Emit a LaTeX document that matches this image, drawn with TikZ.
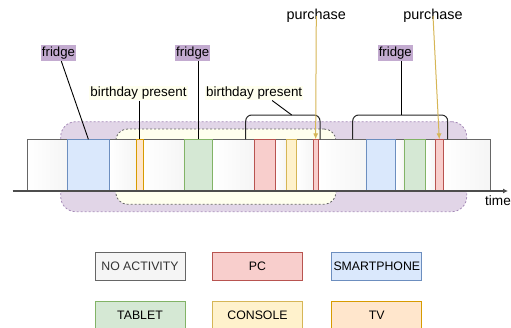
\documentclass[tikz,border=0pt]{standalone}
\usepackage{fontspec}
\setmainfont{Liberation Sans}
\usetikzlibrary{arrows.meta,calc}
\definecolor{pcF}{HTML}{F8CECC}\definecolor{pcD}{HTML}{B85450}
\definecolor{spF}{HTML}{DAE8FC}\definecolor{spD}{HTML}{6C8EBF}
\definecolor{tbF}{HTML}{D5E8D4}\definecolor{tbD}{HTML}{82B366}
\definecolor{coF}{HTML}{FFF2CC}\definecolor{coD}{HTML}{D6B656}
\definecolor{tvF}{HTML}{FFE6CC}\definecolor{tvD}{HTML}{D79B00}
\definecolor{naF}{HTML}{F5F5F5}\definecolor{naD}{HTML}{666666}
\definecolor{puF}{HTML}{E1D5E7}\definecolor{puD}{HTML}{A68BB8}
\definecolor{puL}{HTML}{C3ABD0}
\definecolor{yeF}{HTML}{FFFFEE}
\definecolor{axC}{HTML}{4D4D4D}
\tikzset{
  segbase/.style={rectangle,inner sep=0pt,outer sep=0pt,line width=1pt,minimum height=51.7pt},
  noact/.style={draw=naD,left color=white,right color=naF},
  pcs/.style={draw=pcD,fill=pcF},
  sps/.style={draw=spD,fill=spF},
  tbs/.style={draw=tbD,fill=tbF},
  cos/.style={draw=coD,fill=coF},
  tvs/.style={draw=tvD,fill=tvF},
  bgbox/.style={rectangle,inner sep=0pt,line width=0.8pt,dash pattern=on 2pt off 2pt},
  fridgelab/.style={fill=puL,inner xsep=1pt,inner ysep=0pt,minimum height=16pt,font=\fontsize{13.2}{15}\selectfont},
  bplab/.style={fill=yeF,inner xsep=1pt,inner ysep=0pt,minimum height=14.3pt,font=\fontsize{13.4}{15}\selectfont},
  purlab/.style={inner sep=0pt,font=\fontsize{14.4}{16}\selectfont},
  leg/.style={rectangle,line width=1pt,minimum width=90pt,minimum height=28pt,inner sep=0pt,font=\fontsize{12.3}{14}\selectfont},
  conn/.style={line width=0.9pt,black},
  brk/.style={line width=1pt,black!85,rounded corners=6pt},
  buy/.style={line width=1pt,coD,-{Latex[length=6pt,width=5pt]}},
  axis/.style={line width=1.6pt,axC,-{Latex[length=5pt,width=5pt]}}
}
\newcommand\seg[4]{\node[segbase,#4,minimum width={#3pt-#2pt}] (#1) at ({(#2+#3)/2},165.2) {};}
\begin{document}
\begin{tikzpicture}[x=1pt,y=-1pt]
\useasboundingbox (0,0) rectangle (511,327);
% backgrounds
\node[bgbox,fill=puF,draw=puD,rounded corners=15pt,minimum width=406pt,minimum height=90pt] (pbg) at (263.7,166.7) {};
\node[bgbox,fill=yeF,draw=naD,rounded corners=12pt,minimum width=220.3pt,minimum height=75.3pt] (ybg) at (225.85,166.65) {};
% timeline segments
\seg{w1}{27}{67.5}{noact}
\seg{w2}{109.3}{136}{noact}
\seg{w3}{143.7}{184.7}{noact}
\seg{w4}{212.7}{254.7}{noact}
\seg{w5}{275}{286}{noact}
\seg{w6}{296.7}{313.3}{noact}
\seg{w7}{318}{366.7}{noact}
\seg{w8}{395}{404.3}{noact}
\seg{w9}{425.7}{435.3}{noact}
\seg{w10}{443.3}{490.7}{noact}
\seg{b1}{67.5}{109.3}{sps}
\seg{tv}{136}{143.7}{tvs}
\seg{g1}{184.7}{212.7}{tbs}
\seg{r1}{254.7}{275}{pcs}
\seg{c1}{286}{296.7}{cos}
\seg{r2}{313.3}{318}{pcs}
\seg{b2}{366.7}{395}{sps}
\seg{g2}{404.3}{425.7}{tbs}
\seg{r3}{435.3}{443.3}{pcs}
% axis
\coordinate (axs) at (12.7,191);
\coordinate (axe) at (508,191);
\draw[axis] (axs) -- (axe);
\node[purlab,font=\fontsize{13.6}{15}\selectfont] (time) at (498,201) {time};
% brackets
\coordinate (br1a) at (245.7,139.3);
\coordinate (br1b) at (320,139.3);
\coordinate (br1top) at (291.7,115);
\draw[brk] (br1a) |- (br1top) -| (br1b);
\coordinate (br2a) at (352.7,139.3);
\coordinate (br2b) at (447.7,139.3);
\coordinate (br2top) at (401.7,115);
\draw[brk] (br2a) |- (br2top) -| (br2b);
% labels
\node[fridgelab] (f1) at (58.5,53) {fridge};
\node[fridgelab] (f2) at (192.7,53) {fridge};
\node[fridgelab] (f3) at (395.3,53) {fridge};
\node[bplab] (bp1) at (138.5,93.2) {birthday present};
\node[bplab] (bp2) at (254.2,93.2) {birthday present};
\node[purlab] (p1) at (316.3,16) {purchase};
\node[purlab] (p2) at (433,16) {purchase};
% connectors
\draw[conn] (f1) -- (b1.north);
\draw[conn] (f2.south -| g1.north) -- (g1.north);
\draw[conn] (f3.south -| br2top) -- (br2top);
\draw[conn] (bp1.south -| tv.north) -- (tv.north);
\draw[conn] ([xshift=18pt]bp2.south) -- (br1top);
\draw[buy] (p1.center) -- (r2.north);
\draw[buy] (p2.center) -- (r3.north);
% legend
\node[leg,draw=naD,fill=naF,text=black!80] (lna) at (140,266.7) {NO ACTIVITY};
\node[leg,draw=pcD,fill=pcF] (lpc) at (257.5,266.7) {PC};
\node[leg,draw=spD,fill=spF] (lsp) at (376.8,266.7) {SMARTPHONE};
\node[leg,draw=tbD,fill=tbF] (ltb) at (140,315) {TABLET};
\node[leg,draw=coD,fill=coF] (lco) at (257.5,315) {CONSOLE};
\node[leg,draw=tvD,fill=tvF] (ltv) at (376.8,315) {TV};
\end{tikzpicture}
\end{document}
